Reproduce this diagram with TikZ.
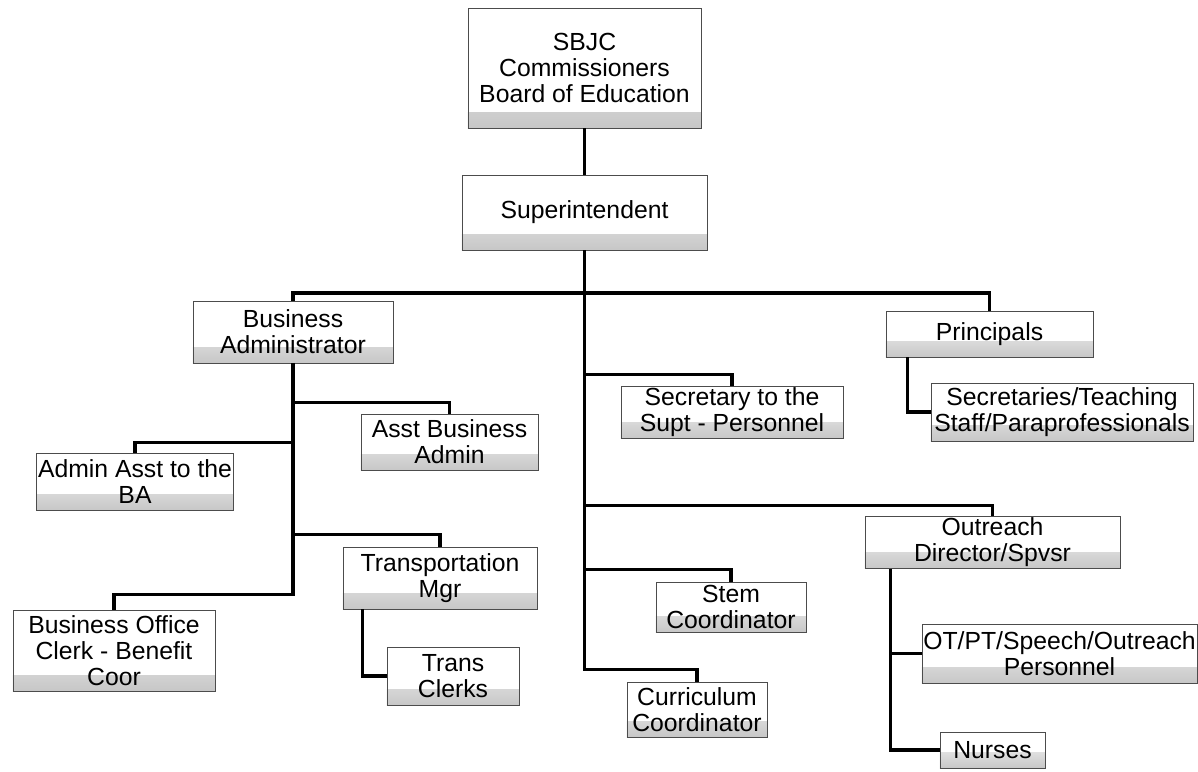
\documentclass[tikz,border=0pt]{standalone}
\usepackage{fontspec}
\setmainfont{Liberation Sans}
\usepackage{tikz}

\tikzset{
  orgbox/.style={draw=black!70, line width=0.6pt, fill=white, align=center,
    inner sep=1pt, font=\fontsize{17.6}{18.6}\selectfont,
    path picture={\shade[top color=white, bottom color=black!22]
      (path picture bounding box.south west) rectangle
      ([yshift=0.4cm]path picture bounding box.south east);}},
  orgline/.style={line width=2.2pt, line join=miter}
}

\begin{document}
\begin{tikzpicture}[x=0.025cm, y=-0.025cm]
  \useasboundingbox (0,0) rectangle (1198,771);

  % top of the chart
  \node[orgbox, minimum width=5.825cm, minimum height=3cm] (sbjc) at (584.5,68)
    {SBJC\\Commissioners\\Board of Education};
  \node[orgbox, minimum width=6.125cm, minimum height=1.875cm] (supt) at (584.5,212.5)
    {Superintendent};

  % first row
  \node[orgbox, minimum width=5cm, minimum height=1.55cm] (ba) at (293,332)
    {Business\\Administrator};
  \node[orgbox, minimum width=5.175cm, minimum height=1.15cm] (prin) at (989.5,334)
    {Principals};
  \node[orgbox, minimum width=6.55cm, minimum height=1.45cm] (secs) at (1062,412)
    {Secretaries/Teaching\\Staff/Paraprofessionals};
  \node[orgbox, minimum width=5.55cm, minimum height=1.225cm] (secy) at (732,412.5)
    {Secretary to the\\Supt - Personnel};

  % business office
  \node[orgbox, minimum width=4.425cm, minimum height=1.4cm] (asst) at (449.5,442)
    {Asst Business\\Admin};
  \node[orgbox, minimum width=4.9cm, minimum height=1.425cm] (aaba) at (135,481.5)
    {Admin Asst to the\\BA};
  \node[orgbox, minimum width=4.85cm, minimum height=1.55cm] (trmgr) at (440,578)
    {Transportation\\Mgr};
  \node[orgbox, minimum width=3.3cm, minimum height=1.45cm] (trcl) at (453,676)
    {Trans\\Clerks};
  \node[orgbox, minimum width=5.05cm, minimum height=2.025cm] (boc) at (114,650.5)
    {Business Office\\Clerk - Benefit\\Coor};

  % coordinators and outreach
  \node[orgbox, minimum width=3.75cm, minimum height=1.25cm] (stem) at (731,607)
    {Stem\\Coordinator};
  \node[orgbox, minimum width=3.5cm, minimum height=1.375cm] (curr) at (697,709.5)
    {Curriculum\\Coordinator};
  \node[orgbox, minimum width=6.375cm, minimum height=1.225cm] (outr) at (992.5,542.5)
    {Outreach\\Director/Spvsr};
  \node[orgbox, minimum width=6.825cm, minimum height=1.475cm] (otpt) at (1059.5,653.5)
    {OT/PT/Speech/Outreach\\Personnel};
  \node[orgbox, minimum width=2.625cm, minimum height=0.9cm] (nurs) at (992.5,750)
    {Nurses};

  \coordinate (top) at (584.5,293);

  \draw[orgline] (sbjc) -- (supt);
  \draw[orgline] (supt.south) -- (top);
  \draw[orgline] (top) -| (ba.north);
  \draw[orgline] (top) -| (prin.north);
  \draw[orgline] (supt.south) |- ([yshift=0.3cm]secy.north) -- (secy.north);
  \draw[orgline] (supt.south) |- ([yshift=0.275cm]outr.north) -- (outr.north);
  \draw[orgline] (supt.south) |- ([yshift=0.3cm]stem.north) -- (stem.north);
  \draw[orgline] (supt.south) |- ([yshift=0.3cm]curr.north) -- (curr.north);

  \draw[orgline] (ba.south) |- ([yshift=0.275cm]asst.north) -- (asst.north);
  \draw[orgline] (ba.south) |- ([yshift=0.25cm]aaba.north) -- (aaba.north);
  \draw[orgline] (ba.south) |- ([yshift=0.3cm]trmgr.north) -- (trmgr.north);
  \draw[orgline] (ba.south) |- ([yshift=0.375cm]boc.north) -- (boc.north);

  \draw[orgline] ([xshift=0.55cm]prin.south west) |- (secs.west);
  \draw[orgline] ([xshift=0.5cm]trmgr.south west) |- (trcl.west);
  \draw[orgline] ([xshift=0.65cm]outr.south west) |- (otpt.west);
  \draw[orgline] ([xshift=0.65cm]outr.south west) |- (nurs.west);
\end{tikzpicture}
\end{document}
